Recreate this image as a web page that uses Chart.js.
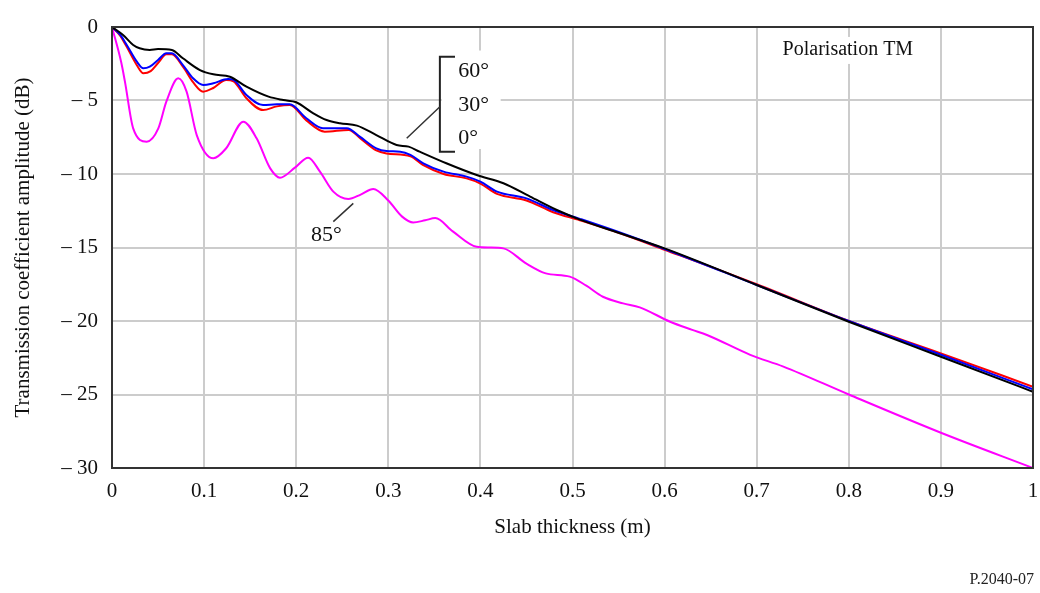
<!DOCTYPE html>
<html>
<head>
<meta charset="utf-8">
<title>Transmission coefficient vs slab thickness (TM)</title>
<script src="https://cdn.jsdelivr.net/npm/chart.js@4/dist/chart.umd.min.js"></script>
<style>
    html, body { margin: 0; padding: 0; background: #fff; }
    #wrap { width: 1040px; height: 593px; position: relative; }
</style>
</head>
<body>
<div id="wrap"><canvas id="chart" width="1040" height="593"></canvas></div>
<script>
// slab thickness (m) and amplitude (dB)
const thick0 = [0, 0.009, 0.016, 0.027, 0.034, 0.042, 0.05, 0.059, 0.065, 0.077, 0.088, 0.099, 0.11, 0.124, 0.132, 0.146, 0.164, 0.179, 0.193, 0.211, 0.231, 0.257, 0.27, 0.287, 0.298, 0.324, 0.338, 0.36, 0.385, 0.4, 0.418, 0.45, 0.479, 0.508, 0.55, 0.6, 0.7, 0.8, 0.9, 1.0];
const loss0  = [0, -0.6, -1.35, -2.6, -3.15, -3.0, -2.45, -1.86, -1.85, -2.7, -3.75, -4.4, -4.15, -3.6, -3.7, -4.85, -5.65, -5.4, -5.3, -6.35, -7.12, -7.0, -7.6, -8.4, -8.6, -8.8, -9.4, -10.0, -10.3, -10.65, -11.35, -11.8, -12.6, -13.15, -14.0, -15.15, -17.5, -20.0, -22.2, -24.47];

const thick30 = [0, 0.009, 0.016, 0.027, 0.034, 0.041, 0.05, 0.059, 0.065, 0.077, 0.088, 0.099, 0.11, 0.126, 0.132, 0.146, 0.164, 0.179, 0.193, 0.211, 0.229, 0.255, 0.269, 0.287, 0.298, 0.313, 0.324, 0.338, 0.36, 0.385, 0.4, 0.418, 0.45, 0.479, 0.508, 0.55, 0.6, 0.7, 0.8, 0.9, 1.0];
const loss30  = [0, -0.54, -1.22, -2.36, -2.81, -2.7, -2.24, -1.79, -1.79, -2.59, -3.49, -3.95, -3.83, -3.54, -3.6, -4.63, -5.31, -5.26, -5.26, -6.21, -6.89, -6.89, -7.46, -8.25, -8.44, -8.48, -8.7, -9.27, -9.84, -10.18, -10.52, -11.2, -11.66, -12.45, -13.05, -13.95, -15.1, -17.55, -20.0, -22.3, -24.65];

const thick60 = [0, 0.012, 0.023, 0.03, 0.041, 0.05, 0.065, 0.077, 0.0955, 0.11, 0.128, 0.146, 0.17, 0.186, 0.2, 0.2186, 0.233, 0.2476, 0.266, 0.287, 0.309, 0.322, 0.334, 0.363, 0.396, 0.425, 0.454, 0.483, 0.508, 0.55, 0.6, 0.7, 0.8, 0.9, 1.0];
const loss60  = [0, -0.54, -1.22, -1.45, -1.56, -1.5, -1.56, -2.13, -2.93, -3.22, -3.38, -4.06, -4.74, -4.97, -5.12, -5.87, -6.33, -6.55, -6.71, -7.35, -8.03, -8.14, -8.48, -9.27, -10.07, -10.63, -11.54, -12.45, -13.1, -14.0, -15.06, -17.55, -20.05, -22.43, -24.81];

const thick85 = [0, 0.01, 0.014, 0.023, 0.0377, 0.0503, 0.059, 0.072, 0.081, 0.092, 0.11, 0.124, 0.1426, 0.157, 0.1716, 0.1824, 0.199, 0.213, 0.2258, 0.2403, 0.2566, 0.27, 0.2837, 0.3, 0.315, 0.327, 0.34, 0.351, 0.37, 0.396, 0.41, 0.425, 0.45, 0.471, 0.497, 0.515, 0.533, 0.555, 0.573, 0.606, 0.63, 0.646, 0.693, 0.729, 0.8, 0.9, 1.0];
const loss85  = [0, -2.4, -3.7, -6.9, -7.8, -6.9, -5.08, -3.49, -4.4, -7.35, -8.93, -8.25, -6.44, -7.57, -9.6, -10.25, -9.55, -8.89, -9.84, -11.2, -11.7, -11.4, -11.02, -11.8, -12.9, -13.3, -13.15, -13.0, -13.9, -14.95, -15.0, -15.06, -16.1, -16.76, -16.98, -17.6, -18.35, -18.8, -19.07, -20.05, -20.6, -20.95, -22.3, -23.1, -25.0, -27.6, -30.0];

const xTicks = [0, 0.1, 0.2, 0.3, 0.4, 0.5, 0.6, 0.7, 0.8, 0.9, 1];
const yTicks = [0, -5, -10, -15, -20, -25, -30];

function pts(xs, ys) {
    return xs.map((x, i) => ({ x: x, y: ys[i] }));
}

const SERIF = '"Liberation Serif", "DejaVu Serif", serif';

function lineSet(label, color, xs, ys) {
    return {
        label: label,
        data: pts(xs, ys),
        borderColor: color,
        backgroundColor: color,
        borderWidth: 2,
        pointRadius: 0,
        fill: false,
        cubicInterpolationMode: 'monotone'
    };
}

// labels, bracket and frame drawn on top of the plot
const notes = {
    id: 'notes',
    beforeDatasetsDraw(chart) {
        const { ctx } = chart;
        const xs = chart.scales.x, ys = chart.scales.y;
        ctx.save();
        ctx.fillStyle = '#fff';
        // white patches behind the text labels
        ctx.font = '20px ' + SERIF;
        const pw = ctx.measureText('Polarisation TM').width;
        const px = xs.getPixelForValue(0.799), py = ys.getPixelForValue(-1.56);
        ctx.fillRect(px - pw / 2 - 8, py - 13, pw + 16, 27);
        const bx = xs.getPixelForValue(0.358);
        ctx.fillRect(bx, ys.getPixelForValue(-1.6), xs.getPixelForValue(0.422) - bx, ys.getPixelForValue(-8.3) - ys.getPixelForValue(-1.6));
        ctx.restore();
    },
    afterDatasetsDraw(chart) {
        const { ctx, chartArea } = chart;
        const xs = chart.scales.x, ys = chart.scales.y;
        const X = v => xs.getPixelForValue(v), Y = v => ys.getPixelForValue(v);
        ctx.save();

        // bracket for the 0/30/60 group
        ctx.strokeStyle = '#222';
        ctx.lineWidth = 2;
        ctx.beginPath();
        ctx.moveTo(X(0.3724), Y(-2.02));
        ctx.lineTo(X(0.356), Y(-2.02));
        ctx.lineTo(X(0.356), Y(-8.48));
        ctx.lineTo(X(0.3724), Y(-8.48));
        ctx.stroke();

        // leader lines
        ctx.lineWidth = 1.5;
        ctx.strokeStyle = '#333';
        ctx.beginPath();
        ctx.moveTo(X(0.356), Y(-5.42));
        ctx.lineTo(X(0.320), Y(-7.57));
        ctx.moveTo(X(0.2403), Y(-13.24));
        ctx.lineTo(X(0.262), Y(-12.0));
        ctx.stroke();

        ctx.fillStyle = '#111';
        ctx.textBaseline = 'middle';
        ctx.font = '22px ' + SERIF;
        ctx.textAlign = 'left';
        ctx.fillText('60°', X(0.376), Y(-2.99));
        ctx.fillText('30°', X(0.376), Y(-5.34));
        ctx.fillText('0°', X(0.376), Y(-7.55));
        ctx.textAlign = 'center';
        ctx.fillText('85°', X(0.2329), Y(-14.15));

        ctx.font = '20px ' + SERIF;
        ctx.fillText('Polarisation TM', X(0.799), Y(-1.56));

        // plot frame
        ctx.strokeStyle = '#333';
        ctx.lineWidth = 2;
        ctx.strokeRect(chartArea.left, chartArea.top, chartArea.right - chartArea.left, chartArea.bottom - chartArea.top);

        // figure reference
        ctx.font = '16px ' + SERIF;
        ctx.textAlign = 'right';
        ctx.fillStyle = '#222';
        ctx.fillText('P.2040-07', chart.width - 6, chart.height - 13);
        ctx.restore();
    }
};

const ctx = document.getElementById('chart');
new Chart(ctx, {
    type: 'line',
    data: {
        datasets: [
            lineSet('60°', '#000000', thick60, loss60),
            lineSet('30°', '#0000ff', thick30, loss30),
            lineSet('0°', '#ff0000', thick0, loss0),
            lineSet('85°', '#ff00ff', thick85, loss85)
        ]
    },
    options: {
        responsive: false,
        animation: false,
        layout: { padding: { top: 27, right: 7, left: 0, bottom: 0 } },
        plugins: {
            legend: { display: false },
            tooltip: { enabled: false }
        },
        scales: {
            x: {
                type: 'linear',
                min: 0,
                max: 1,
                afterFit: s => { s.height = 125; s.paddingRight = 0; s.paddingLeft = 0; },
                afterBuildTicks: s => { s.ticks = xTicks.map(v => ({ value: v })); },
                grid: { color: '#cccccc', lineWidth: 2, drawTicks: false },
                border: { display: false },
                ticks: {
                    padding: 11,
                    color: '#111',
                    font: { family: SERIF, size: 21 },
                    maxRotation: 0,
                    callback: v => String(+v.toFixed(1))
                },
                title: {
                    display: true,
                    text: 'Slab thickness (m)',
                    color: '#111',
                    font: { family: SERIF, size: 21 },
                    padding: { top: 0, bottom: 53 }
                }
            },
            y: {
                type: 'linear',
                min: -30,
                max: 0,
                afterFit: s => { s.width = 112; },
                afterBuildTicks: s => { s.ticks = yTicks.map(v => ({ value: v })); },
                grid: { color: '#cccccc', lineWidth: 2, drawTicks: false },
                border: { display: false },
                ticks: {
                    padding: 14,
                    color: '#111',
                    font: { family: SERIF, size: 21 },
                    callback: v => v === 0 ? '0' : '– ' + Math.abs(v)
                },
                title: {
                    display: true,
                    text: 'Transmission coefficient amplitude (dB)',
                    color: '#111',
                    font: { family: SERIF, size: 21 },
                    padding: { top: 11, bottom: 0 }
                }
            }
        }
    },
    plugins: [notes]
});
</script>
</body>
</html>
